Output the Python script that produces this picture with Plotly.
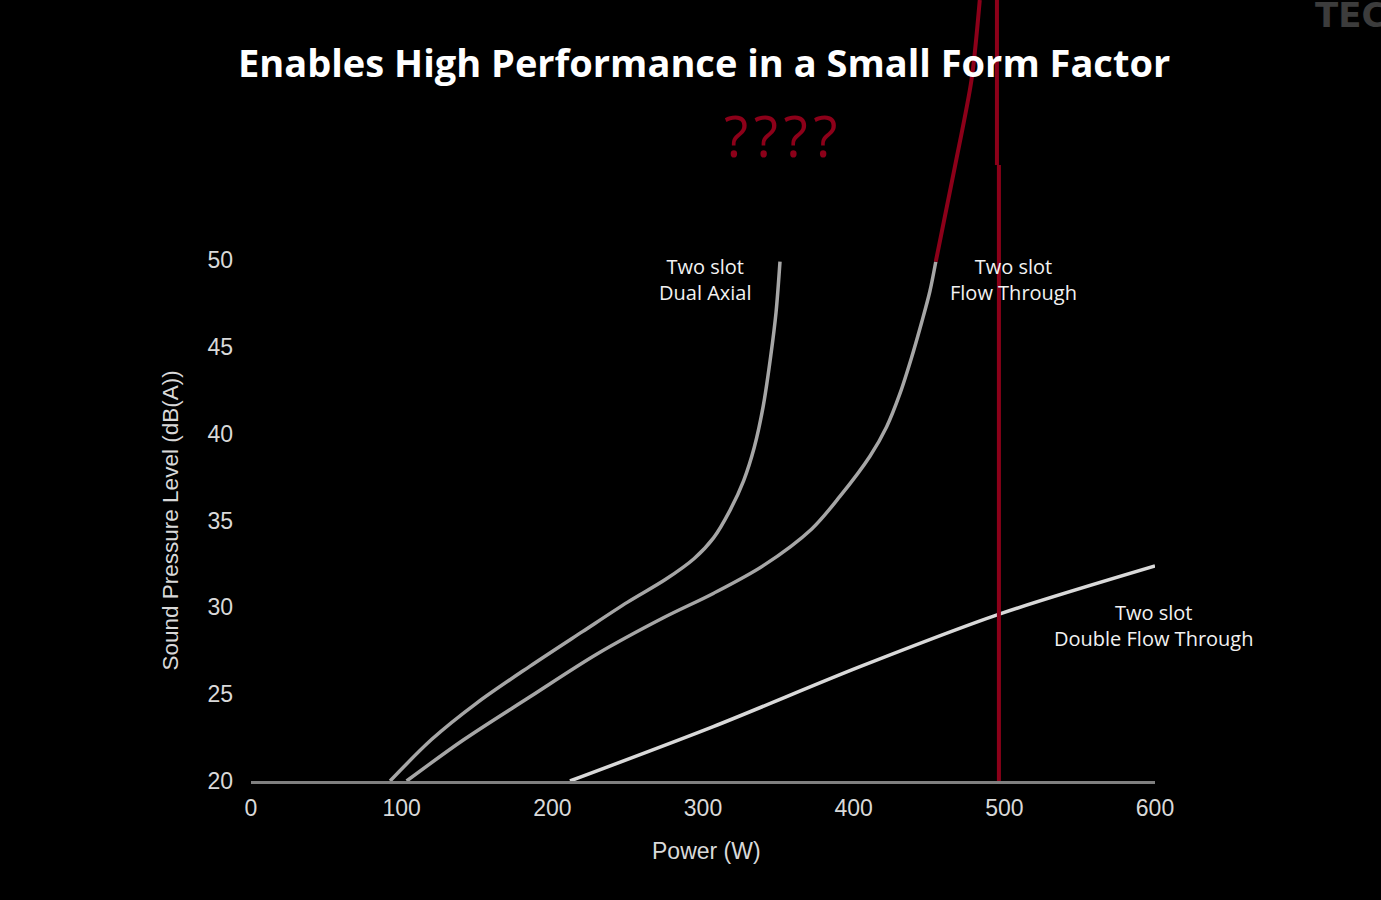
import plotly.graph_objects as go

# Data
dual_axial_x = [92.3, 120, 150, 185, 220, 250, 275, 294, 307, 318, 327, 334, 340, 345, 348.5, 351.1]
dual_axial_y = [20.0, 22.4, 24.5, 26.6, 28.6, 30.3, 31.6, 32.8, 34.0, 35.6, 37.3, 39.2, 41.6, 44.5, 47.0, 49.9]

flow_x = [103.3, 140.9, 185.2, 229.4, 273.7, 306.8, 340, 372, 391, 410.8, 421.9, 430.7, 438.5, 445.1, 450.6, 454.5]
flow_y = [20.0, 22.36, 24.85, 27.3, 29.4, 30.8, 32.4, 34.5, 36.4, 38.7, 40.4, 42.3, 44.4, 46.4, 48.2, 49.9]

flow_red_x = [454.5, 467.2, 478.2, 483.7]
flow_red_y = [49.9, 55.37, 60.36, 64.97]

double_x = [211.7, 306.8, 404.2, 497.1, 600]
double_y = [20.0, 23.13, 26.58, 29.62, 32.38]

limit_upper_x = [495.1, 495.1]
limit_upper_y = [55.47, 64.97]
limit_lower_x = [496.4, 496.4]
limit_lower_y = [20.0, 55.47]

x_ticks = [0, 100, 200, 300, 400, 500, 600]
y_ticks = [20, 25, 30, 35, 40, 45, 50]

GRAY = "#a6a6a6"
LIGHT = "#d9d9d9"
RED = "#8c0019"

fig = go.Figure()
fig.add_trace(go.Scatter(x=dual_axial_x, y=dual_axial_y, mode="lines",
                         line=dict(color=GRAY, width=3.5, shape="spline", smoothing=0.9)))
fig.add_trace(go.Scatter(x=flow_x, y=flow_y, mode="lines",
                         line=dict(color=GRAY, width=3.5, shape="spline", smoothing=0.9)))
fig.add_trace(go.Scatter(x=double_x, y=double_y, mode="lines",
                         line=dict(color=LIGHT, width=3.5, shape="spline", smoothing=0.8)))
fig.add_trace(go.Scatter(x=flow_red_x, y=flow_red_y, mode="lines",
                         line=dict(color=RED, width=4, shape="spline", smoothing=0.8)))
fig.add_trace(go.Scatter(x=limit_lower_x, y=limit_lower_y, mode="lines",
                         line=dict(color=RED, width=4)))
fig.add_trace(go.Scatter(x=limit_upper_x, y=limit_upper_y, mode="lines",
                         line=dict(color=RED, width=4)))

lab_font = dict(family="Open Sans", size=20, color="#f2f2f2")
fig.add_annotation(x=301.3, y=48.9, text="Two slot<br>Dual Axial", showarrow=False, font=lab_font)
fig.add_annotation(x=505.8, y=48.9, text="Two slot<br>Flow Through", showarrow=False, font=lab_font)
fig.add_annotation(x=599.3, y=28.98, text="Two slot<br>Double Flow Through", showarrow=False, font=lab_font)

# Title and decorations
fig.add_annotation(xref="x domain", yref="y", x=0.5013, y=61.4,
                   text="<b>Enables High Performance in a Small Form Factor</b>",
                   showarrow=False, font=dict(family="Open Sans", size=38, color="#ffffff"))
fig.add_annotation(x=352, y=57.2, text="?\u200a?\u200a?\u200a?", showarrow=False,
                   font=dict(family="Open Sans", size=56, color=RED))
fig.add_annotation(xref="paper", yref="paper", x=1.0, y=1.0, xanchor="left", yanchor="top",
                   xshift=158, yshift=7, text="<b>TEC</b>", showarrow=False,
                   font=dict(family="DejaVu Sans", size=34, color="#3c3c3c"))

# Axis titles
fig.add_annotation(x=302, y=20, yshift=-70, text="Power (W)", showarrow=False,
                   font=dict(family="Arial", size=23, color="#d9d9d9"))
fig.add_annotation(x=0, y=35, xshift=-81, text="Sound Pressure Level (dB(A))", textangle=-90,
                   showarrow=False, font=dict(family="Arial", size=22.5, color="#d9d9d9"))

fig.update_layout(
    width=1381, height=900,
    margin=dict(l=251, r=226, t=0, b=119),
    paper_bgcolor="#000000", plot_bgcolor="#000000",
    showlegend=False,
    xaxis=dict(range=[0, 600], tickvals=x_ticks, showgrid=False, zeroline=False,
               showline=True, linecolor="#7f7f7f", linewidth=2.5, ticks="",
               tickfont=dict(family="Arial", size=23, color="#d9d9d9"),
               ticklabelstandoff=5),
    yaxis=dict(range=[20, 64.97], tickvals=y_ticks, showgrid=False, zeroline=False,
               showline=False, ticks="",
               tickfont=dict(family="Arial", size=23, color="#d9d9d9"),
               ticklabelstandoff=17),
)

fig.write_html("out.html")
